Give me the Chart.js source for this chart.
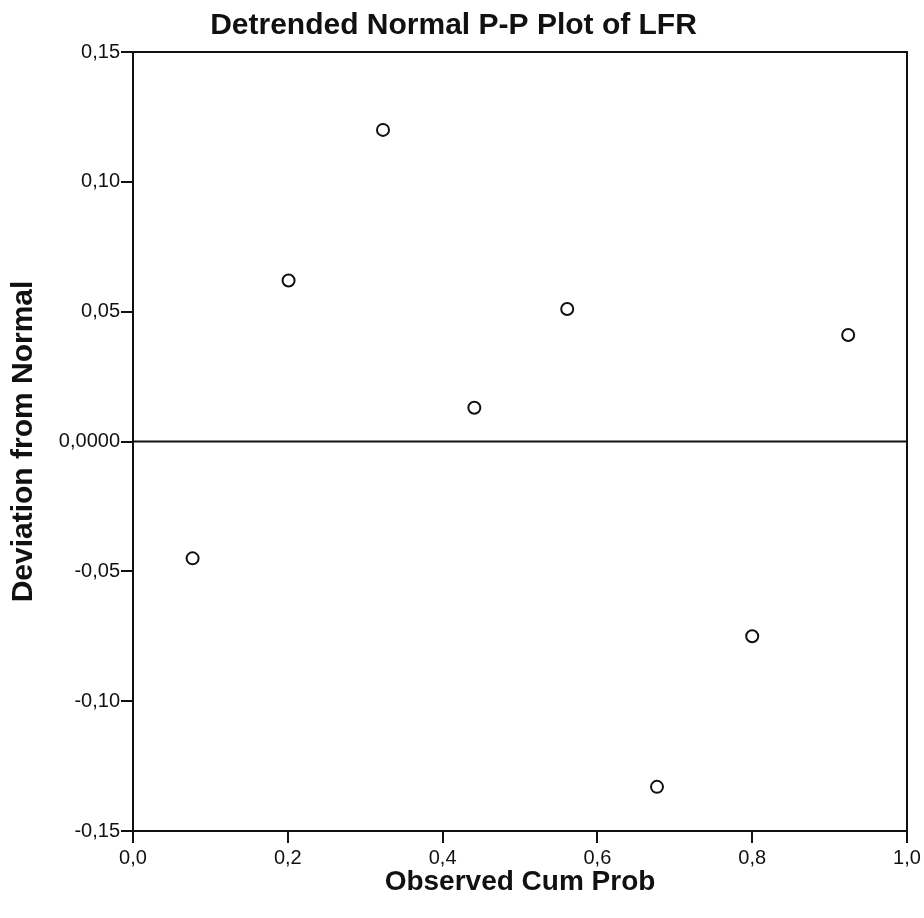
<!DOCTYPE html>
<html>
<head>
<meta charset="utf-8">
<script src="https://cdn.jsdelivr.net/npm/chart.js@4/dist/chart.umd.min.js"></script>
<style>
    body { margin: 0; background: #fff; }
    #ppChart { display: block; }
</style>
</head>
<body>
<canvas id="ppChart" width="924" height="918"></canvas>
<script>
// detrended P-P values
const obsCumProb = [0.077, 0.201, 0.323, 0.441, 0.561, 0.677, 0.800, 0.924];
const deviation = [-0.045, 0.062, 0.120, 0.013, 0.051, -0.133, -0.075, 0.041];

const xTickLabels = ['0,0', '0,2', '0,4', '0,6', '0,8', '1,0'];
const yTickLabels = ['-0,15', '-0,10', '-0,05', '0,0000', '0,05', '0,10', '0,15'];

// horizontal reference line at zero
const refLineX = [0, 1];
const refLineY = [0, 0];

const tickFont = { family: "'Liberation Sans', Arial, sans-serif", size: 20 };
const titleFont = { family: "'Liberation Sans', Arial, sans-serif", size: 30, weight: 'bold' };

// closes the box on top and right like the spss frame
const frameBox = {
    id: 'frameBox',
    afterDraw(chart) {
        const { ctx, chartArea } = chart;
        ctx.save();
        ctx.strokeStyle = '#111';
        ctx.lineWidth = 2;
        ctx.strokeRect(chartArea.left, chartArea.top, chartArea.right - chartArea.left, chartArea.bottom - chartArea.top);
        ctx.restore();
    }
};

const ctx = document.getElementById('ppChart').getContext('2d');

new Chart(ctx, {
    type: 'scatter',
    data: {
        datasets: [
            {
                label: 'zero',
                data: refLineX.map((x, i) => ({ x: x, y: refLineY[i] })),
                showLine: true,
                borderColor: '#111',
                borderWidth: 2,
                pointRadius: 0,
                order: 2
            },
            {
                label: 'LFR',
                data: obsCumProb.map((x, i) => ({ x: x, y: deviation[i] })),
                pointRadius: 6,
                pointBorderWidth: 2,
                borderColor: '#111',
                backgroundColor: '#fff',
                order: 1
            }
        ]
    },
    options: {
        responsive: false,
        animation: false,
        layout: { padding: { left: 0, right: 17, top: 0, bottom: 0 } },
        plugins: {
            legend: { display: false },
            tooltip: { enabled: false },
            title: {
                display: true,
                text: 'Detrended Normal P-P Plot of LFR',
                color: '#111',
                font: titleFont,
                padding: { top: 8, bottom: 8 }
            }
        },
        scales: {
            x: {
                type: 'linear',
                min: 0,
                max: 1,
                afterFit(scale) { scale.height = 87; },
                ticks: {
                    stepSize: 0.2,
                    color: '#111',
                    font: tickFont,
                    padding: 3,
                    maxRotation: 0,
                    callback: (value, index) => xTickLabels[index]
                },
                grid: { drawOnChartArea: false, drawTicks: true, tickLength: 12, color: '#111', lineWidth: 2 },
                border: { display: true, color: '#111', width: 2 },
                title: {
                    display: true,
                    text: 'Observed Cum Prob',
                    color: '#111',
                    font: { family: "'Liberation Sans', Arial, sans-serif", size: 28, weight: 'bold' },
                    padding: { top: 0, bottom: 19 }
                }
            },
            y: {
                type: 'linear',
                min: -0.15,
                max: 0.15,
                afterFit(scale) { scale.width = 133; },
                ticks: {
                    stepSize: 0.05,
                    color: '#111',
                    font: tickFont,
                    padding: 1,
                    callback: (value, index) => yTickLabels[index]
                },
                grid: { drawOnChartArea: false, drawTicks: true, tickLength: 12, color: '#111', lineWidth: 2 },
                border: { display: true, color: '#111', width: 2 },
                title: {
                    display: true,
                    text: 'Deviation from Normal',
                    color: '#111',
                    font: titleFont,
                    padding: { top: 6, bottom: 0 }
                }
            }
        }
    },
    plugins: [frameBox]
});
</script>
</body>
</html>
